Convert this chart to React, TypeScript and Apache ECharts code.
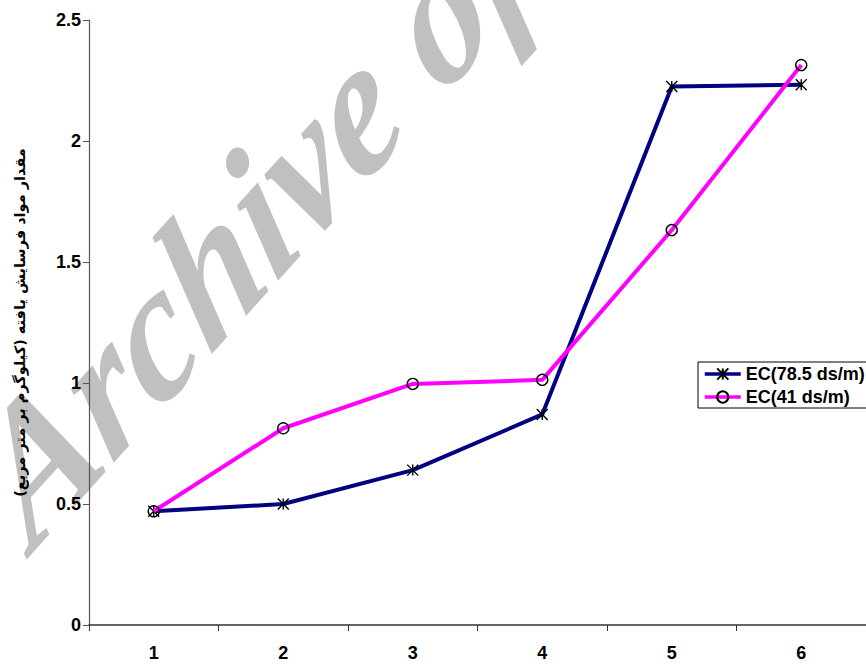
import React, { useEffect, useRef } from "react";
import * as echarts from "echarts";

const categories = ["1", "2", "3", "4", "5", "6"];
const seriesNames = ["EC(78.5 ds/m)", "EC(41 ds/m)"];
const ec785 = [0.47, 0.5, 0.64, 0.87, 2.225, 2.232];
const ec41 = [0.47, 0.813, 0.996, 1.013, 1.632, 2.314];
const yTicks = { min: 0, max: 2.5, interval: 0.5 };
const yTitle = "مقدار مواد فرسایش یافته (کیلوگرم بر متر مربع)";
const watermark = "Archive of SID";

const ASTERISK = "path://M5,0L5,10M0,0L10,10M0,10L10,0";

export default function App() {
  const ref = useRef<HTMLDivElement>(null);
  useEffect(() => {
    if (!ref.current) return;
    const chart = echarts.init(ref.current, null, { renderer: "svg" });
    chart.setOption({
      animation: false,
      backgroundColor: "#ffffff",
      grid: { left: 89, right: -1, top: 20, bottom: 41, containLabel: false },
      graphic: [
        {
          type: "text",
          z: -10,
          x: 366,
          y: 94,
          rotation: (48 * Math.PI) / 180,
          skewX: -0.27,
          silent: true,
          style: {
            text: watermark,
            fill: "#C0C0C0",
            fontStyle: "italic",
            fontWeight: "bold",
            fontSize: 176,
            fontFamily: "Liberation Serif",
            align: "center",
            verticalAlign: "middle",
          },
        },
      ],
      legend: {
        orient: "vertical",
        left: 698,
        top: 362,
        padding: [3, 6, 2, 5],
        itemGap: 5,
        itemWidth: 36,
        itemHeight: 14,
        borderColor: "#000",
        borderWidth: 1,
        backgroundColor: "#fff",
        lineStyle: { width: 3.5 },
        textStyle: {
          fontFamily: "Liberation Sans, Arial, sans-serif",
          fontWeight: "bold",
          fontSize: 18,
          color: "#000",
        },
        data: seriesNames,
      },
      xAxis: {
        type: "category",
        data: categories,
        boundaryGap: true,
        axisLine: { lineStyle: { color: "#333", width: 1.5 } },
        axisTick: { show: true, length: 6, lineStyle: { color: "#333" } },
        axisLabel: {
          margin: 19,
          fontFamily: "Liberation Sans, Arial, sans-serif",
          fontWeight: "bold",
          fontSize: 18,
          color: "#000",
        },
        splitLine: { show: false },
      },
      yAxis: {
        type: "value",
        min: yTicks.min,
        max: yTicks.max,
        interval: yTicks.interval,
        name: yTitle,
        nameLocation: "middle",
        nameRotate: 90,
        nameGap: 62,
        nameTextStyle: {
          fontFamily: "DejaVu Sans",
          fontWeight: "bold",
          fontSize: 14.5,
          color: "#000",
        },
        axisLine: { show: true, lineStyle: { color: "#555", width: 1.2 } },
        axisTick: { show: true, length: 6, lineStyle: { color: "#555" } },
        axisLabel: {
          margin: 8,
          fontFamily: "Liberation Sans, Arial, sans-serif",
          fontWeight: "bold",
          fontSize: 18,
          color: "#000",
        },
        splitLine: { show: false },
      },
      series: [
        {
          name: seriesNames[0],
          type: "line",
          data: ec785,
          symbol: ASTERISK,
          symbolSize: 11,
          lineStyle: { color: "#000080", width: 4 },
          itemStyle: { color: "transparent", borderColor: "#000", borderWidth: 1.4 },
          z: 3,
        },
        {
          name: seriesNames[1],
          type: "line",
          data: ec41,
          symbol: "circle",
          symbolSize: 11,
          lineStyle: { color: "#FF00FF", width: 4 },
          itemStyle: { color: "transparent", borderColor: "#000", borderWidth: 1.4 },
          z: 4,
        },
      ],
    });
    return () => chart.dispose();
  }, []);
  return (
    <div
      ref={ref}
      style={{ position: "absolute", left: 0, top: 0, width: 866, height: 666 }}
    />
  );
}
